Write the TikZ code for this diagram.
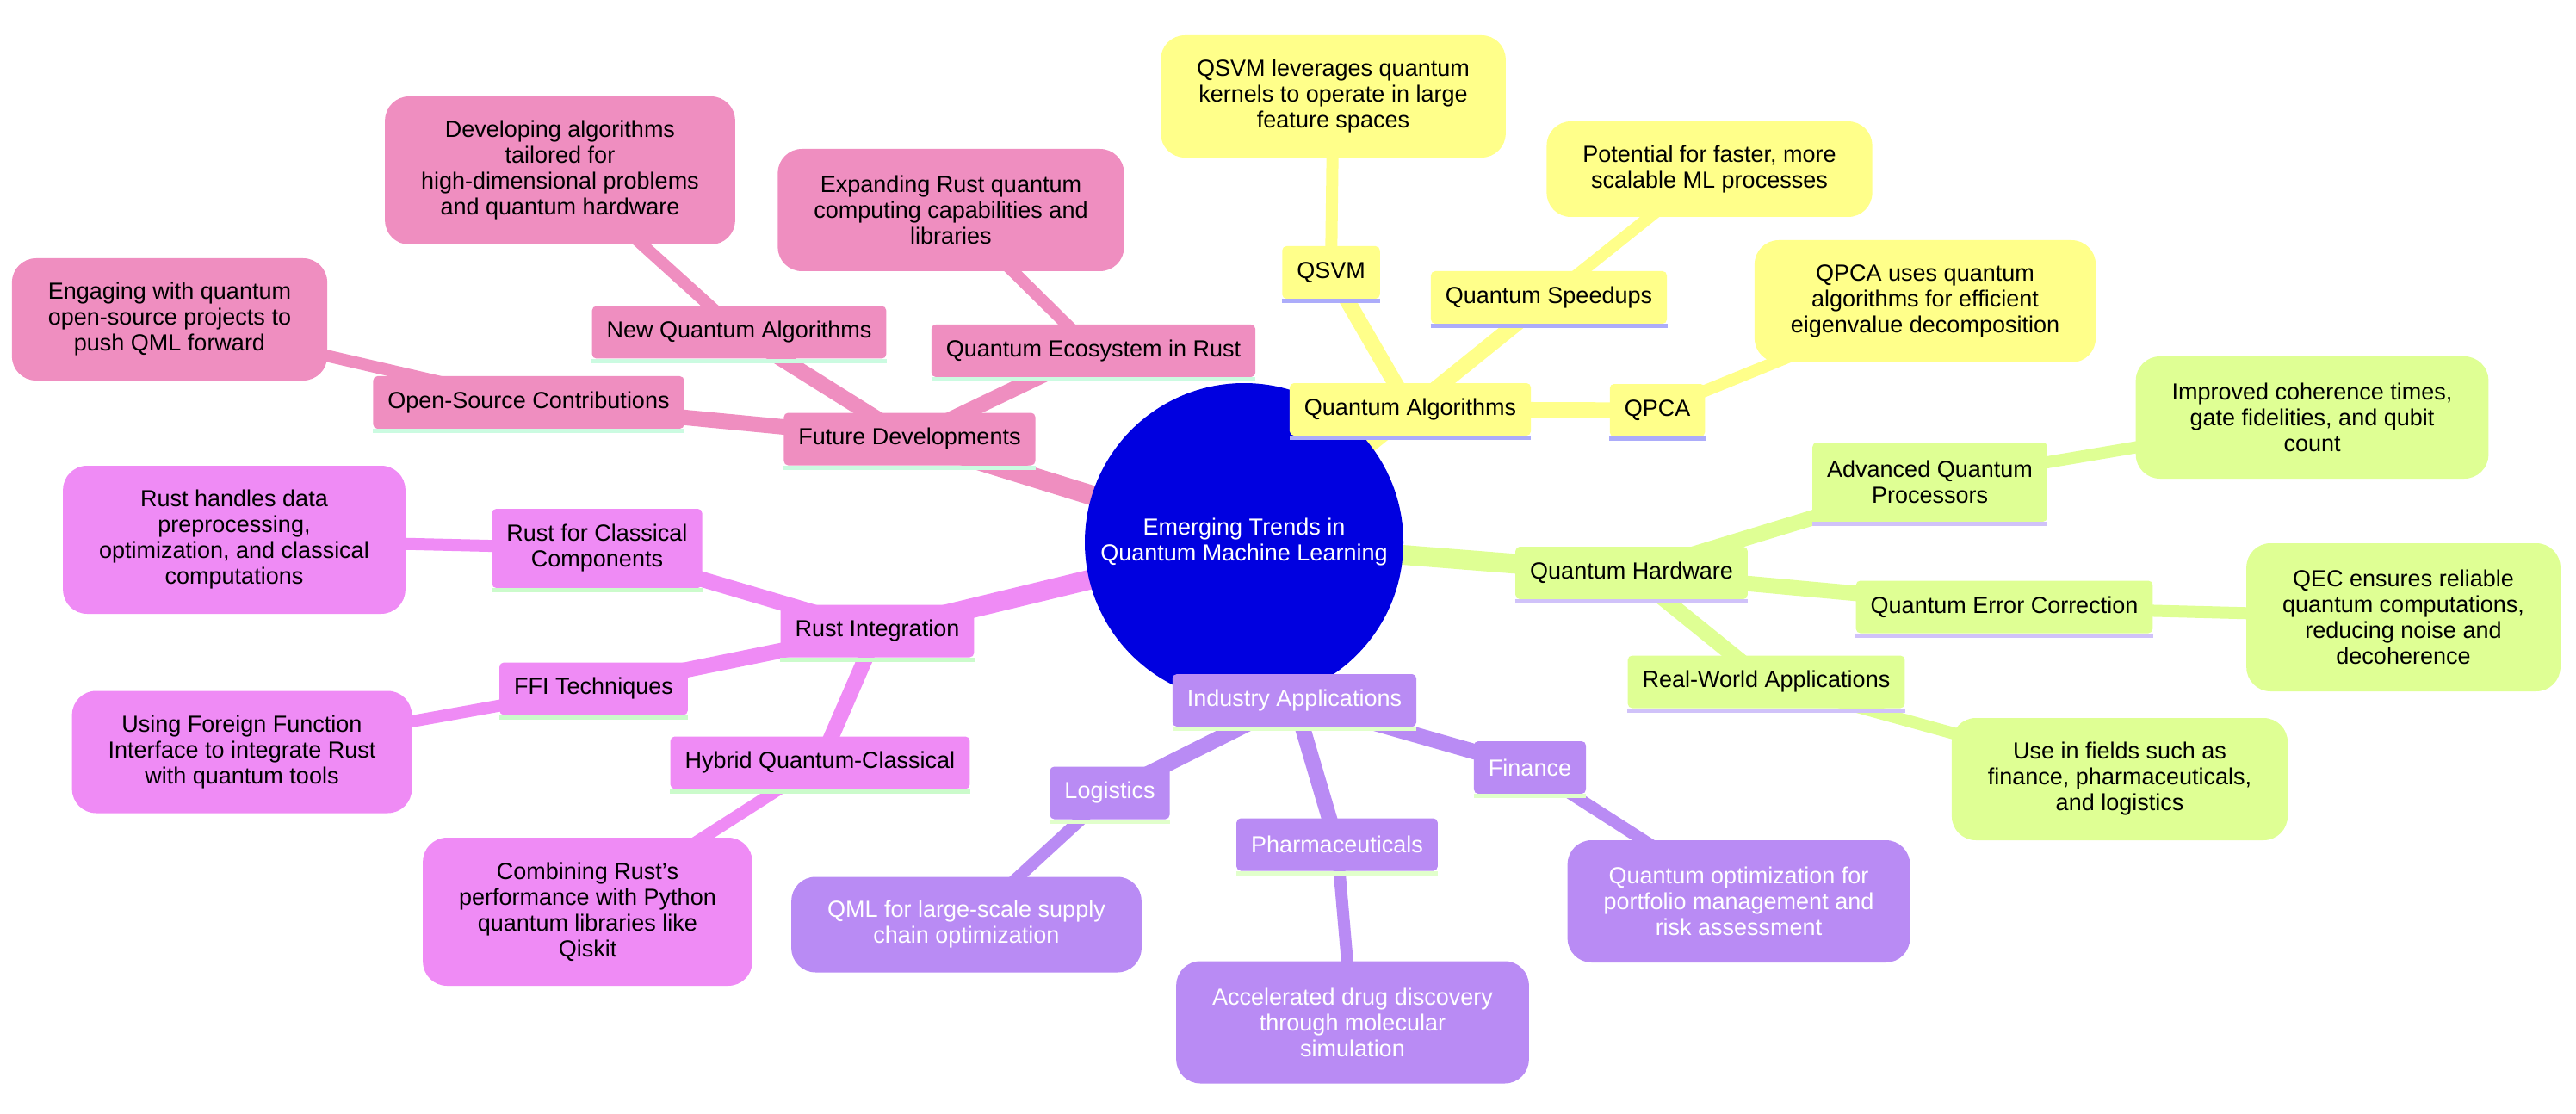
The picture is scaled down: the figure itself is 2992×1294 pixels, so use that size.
\documentclass[tikz,border=0pt]{standalone}
\usepackage{fontspec}
\setmainfont{Liberation Sans}
\usepackage{tikz}
\usepackage{xcolor}
\usetikzlibrary{backgrounds}

\definecolor{cblue}{HTML}{0000E0}
\definecolor{cyellow}{HTML}{FFFF8A}
\definecolor{cgreen}{HTML}{DFFF94}
\definecolor{cpurple}{HTML}{B98BF4}
\definecolor{cmagenta}{HTML}{EF8BF5}
\definecolor{cpink}{HTML}{EF8EC0}
\definecolor{uyellow}{HTML}{ACACFA}
\definecolor{ugreen}{HTML}{D0C2F9}
\definecolor{upurple}{HTML}{E1FFCB}
\definecolor{umagenta}{HTML}{CBFBCB}
\definecolor{upink}{HTML}{CBFBE1}

\begin{document}
\begin{tikzpicture}[x=0.5pt, y=-0.5pt,
    every node/.style={font=\fontsize{13.5pt}{15pt}\selectfont, align=center},
    ul/.style={append after command={([yshift=-1.25pt]\tikzlastnode.south west) edge[draw=#1, line width=2.5pt] ([yshift=-1.25pt]\tikzlastnode.south east)}},
    root/.style={circle, fill=cblue, text=white, minimum size=185pt, inner sep=0pt},
    sub/.style={rectangle, rounded corners=2.5pt, inner xsep=8.5pt, inner ysep=3pt, minimum height=30.5pt},
    leaf/.style={rectangle, rounded corners=14pt, inner xsep=21pt, inner ysep=3pt, minimum height=71pt},
    algosub/.style={sub, fill=cyellow, ul=uyellow},
    algoleaf/.style={leaf, fill=cyellow},
    hwsub/.style={sub, fill=cgreen, ul=ugreen},
    hwleaf/.style={leaf, fill=cgreen},
    indsub/.style={sub, fill=cpurple, text=white, ul=upurple},
    indleaf/.style={leaf, fill=cpurple, text=white},
    rustsub/.style={sub, fill=cmagenta, ul=umagenta},
    rustleaf/.style={leaf, fill=cmagenta},
    futsub/.style={sub, fill=cpink, ul=upink},
    futleaf/.style={leaf, fill=cpink},
    edge0/.style={line width=11.5pt},
    edge1/.style={line width=9pt},
    edge2/.style={line width=7pt}]

    \useasboundingbox (0,0) rectangle (2992,1294);

    \node[root] (root) at (1445,630) {Emerging Trends in\\Quantum Machine Learning};

    % quantum algorithms
    \node[algosub] (qalg) at (1638,475.5) {Quantum Algorithms};
    \node[algosub] (qsvm) at (1546,316.5) {QSVM};
    \node[algoleaf] (qsvmL) at (1548.5,112) {QSVM leverages quantum\\kernels to operate in large\\feature spaces};
    \node[algosub] (qspeed) at (1799,345.5) {Quantum Speedups};
    \node[algoleaf, minimum height=55.5pt] (qspeedL) at (1985.5,196.5) {Potential for faster, more\\scalable ML processes};
    \node[algosub] (qpca) at (1925,476.5) {QPCA};
    \node[algoleaf] (qpcaL) at (2236,350) {QPCA uses quantum\\algorithms for efficient\\eigenvalue decomposition};

    % quantum hardware
    \node[hwsub] (qhw) at (1895,665.5) {Quantum Hardware};
    \node[hwsub, minimum height=46pt] (aqp) at (2241.5,560) {Advanced Quantum\\Processors};
    \node[hwleaf] (aqpL) at (2685.5,485) {Improved coherence times,\\gate fidelities, and qubit\\count};
    \node[hwsub] (qec) at (2328,705) {Quantum Error Correction};
    \node[hwleaf, minimum height=86pt] (qecL) at (2791.5,717) {QEC ensures reliable\\quantum computations,\\reducing noise and\\decoherence};
    \node[hwsub] (rwa) at (2051.5,792) {Real-World Applications};
    \node[hwleaf] (rwaL) at (2462,905) {Use in fields such as\\finance, pharmaceuticals,\\and logistics};

    % industry applications
    \node[indsub] (ind) at (1503.5,813.5) {Industry Applications};
    \node[indsub] (log) at (1289,921) {Logistics};
    \node[indleaf, minimum height=55.5pt] (logL) at (1122.5,1074) {QML for large-scale supply\\chain optimization};
    \node[indsub] (pha) at (1553,981) {Pharmaceuticals};
    \node[indleaf] (phaL) at (1571,1187.5) {Accelerated drug discovery\\through molecular\\simulation};
    \node[indsub] (fin) at (1777,891.5) {Finance};
    \node[indleaf] (finL) at (2019.5,1047) {Quantum optimization for\\portfolio management and\\risk assessment};

    % rust integration
    \node[rustsub] (rust) at (1019,733) {Rust Integration};
    \node[rustsub, minimum height=46pt] (rcc) at (693.5,637) {Rust for Classical\\Components};
    \node[rustleaf, minimum height=86pt] (rccL) at (272,627) {Rust handles data\\preprocessing,\\optimization, and classical\\computations};
    \node[rustsub] (ffi) at (689.5,800) {FFI Techniques};
    \node[rustleaf] (ffiL) at (281,873.5) {Using Foreign Function\\Interface to integrate Rust\\with quantum tools};
    \node[rustsub] (hyb) at (952.5,886) {Hybrid Quantum-Classical};
    \node[rustleaf, minimum height=86pt] (hybL) at (682.5,1059) {Combining Rust’s\\performance with Python\\quantum libraries like\\Qiskit};

    % future developments
    \node[futsub] (fut) at (1056.5,510) {Future Developments};
    \node[futsub] (nqa) at (858.5,386) {New Quantum Algorithms};
    \node[futleaf, minimum height=86pt] (nqaL) at (650.5,198) {Developing algorithms\\tailored for\\high-dimensional problems\\and quantum hardware};
    \node[futsub] (eco) at (1270,407.5) {Quantum Ecosystem in Rust};
    \node[futleaf] (ecoL) at (1104.5,244) {Expanding Rust quantum\\computing capabilities and\\libraries};
    \node[futsub] (osc) at (614,467.5) {Open-Source Contributions};
    \node[futleaf] (oscL) at (197,371) {Engaging with quantum\\open-source projects to\\push QML forward};

    \begin{scope}[on background layer]
        \draw[edge0, cyellow] (root.center) -- (qalg.center);
        \draw[edge0, cgreen] (root.center) -- (qhw.center);
        \draw[edge0, cpurple] (root.center) -- (ind.center);
        \draw[edge0, cmagenta] (root.center) -- (rust.center);
        \draw[edge0, cpink] (root.center) -- (fut.center);

        \draw[edge1, cyellow] (qalg.center) -- (qsvm.center);
        \draw[edge1, cyellow] (qalg.center) -- (qspeed.center);
        \draw[edge1, cyellow] (qalg.center) -- (qpca.center);
        \draw[edge2, cyellow] (qsvm.center) -- (qsvmL.center);
        \draw[edge2, cyellow] (qspeed.center) -- (qspeedL.center);
        \draw[edge2, cyellow] (qpca.center) -- (qpcaL.center);

        \draw[edge1, cgreen] (qhw.center) -- (aqp.center);
        \draw[edge1, cgreen] (qhw.center) -- (qec.center);
        \draw[edge1, cgreen] (qhw.center) -- (rwa.center);
        \draw[edge2, cgreen] (aqp.center) -- (aqpL.center);
        \draw[edge2, cgreen] (qec.center) -- (qecL.center);
        \draw[edge2, cgreen] (rwa.center) -- (rwaL.center);

        \draw[edge1, cpurple] (ind.center) -- (log.center);
        \draw[edge1, cpurple] (ind.center) -- (pha.center);
        \draw[edge1, cpurple] (ind.center) -- (fin.center);
        \draw[edge2, cpurple] (log.center) -- (logL.center);
        \draw[edge2, cpurple] (pha.center) -- (phaL.center);
        \draw[edge2, cpurple] (fin.center) -- (finL.center);

        \draw[edge1, cmagenta] (rust.center) -- (rcc.center);
        \draw[edge1, cmagenta] (rust.center) -- (ffi.center);
        \draw[edge1, cmagenta] (rust.center) -- (hyb.center);
        \draw[edge2, cmagenta] (rcc.center) -- (rccL.center);
        \draw[edge2, cmagenta] (ffi.center) -- (ffiL.center);
        \draw[edge2, cmagenta] (hyb.center) -- (hybL.center);

        \draw[edge1, cpink] (fut.center) -- (nqa.center);
        \draw[edge1, cpink] (fut.center) -- (eco.center);
        \draw[edge1, cpink] (fut.center) -- (osc.center);
        \draw[edge2, cpink] (nqa.center) -- (nqaL.center);
        \draw[edge2, cpink] (eco.center) -- (ecoL.center);
        \draw[edge2, cpink] (osc.center) -- (oscL.center);
    \end{scope}
\end{tikzpicture}
\end{document}
